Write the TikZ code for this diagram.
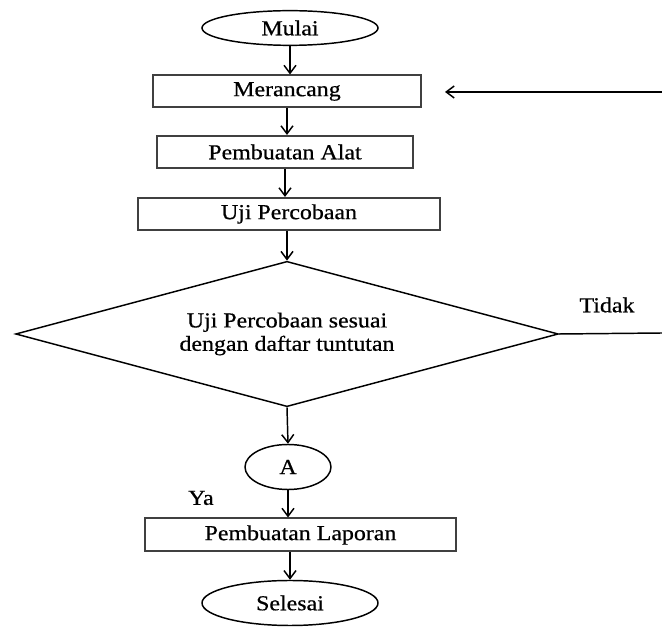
\documentclass[tikz,border=0pt]{standalone}
\usepackage{fontspec}
\setmainfont{Liberation Serif}[FakeStretch=1.12, FakeBold=0.6]
\usepackage{tikz}
\usetikzlibrary{arrows.meta, positioning, shapes.geometric}

\newcommand{\flowfont}{\fontsize{16pt}{17.5pt}\selectfont}

\begin{document}
\begin{tikzpicture}[
    x=0.75pt, y=-0.75pt,
    terminal/.style={ellipse, draw, line width=1.1pt, inner sep=0pt, minimum width=132pt, font=\flowfont},
    process/.style={rectangle, draw=black!75, line width=1.5pt, inner sep=0pt, minimum height=24pt, font=\flowfont},
    decision/.style={diamond, draw, line width=1.1pt, aspect=3.75, inner sep=0pt, minimum width=407pt, minimum height=109pt, align=center, font=\flowfont},
    connector/.style={ellipse, draw, line width=1.1pt, inner sep=0pt, minimum width=64.5pt, minimum height=33.75pt, font=\flowfont},
    arrow/.style={-{Straight Barb[length=6pt, width=9pt]}, line width=1.1pt},
]
    \useasboundingbox (0,0) rectangle (662,627);

    % Start and design
    \node[terminal, minimum height=26pt] (mulai) at (290,28) {Mulai};
    \node[process, minimum width=201pt] (merancang) at (287,91.5) {Merancang};
    \node[process, minimum width=192pt] (alat) at (285,152) {Pembuatan Alat};
    \node[process, minimum width=227pt] (uji) at (289,214) {Uji Percobaan};

    % Check
    \node[decision] (cek) at (287,334) {Uji Percobaan sesuai\\dengan daftar tuntutan};
    \node[font=\flowfont] (tidak) at (607,305) {Tidak};
    \coordinate (tidakend) at (662,333);
    \coordinate (balik) at (662,92);
    \coordinate (balikend) at (445,92);

    % Report and finish
    \node[connector] (a) at (288,467) {A};
    \node[font=\flowfont] (ya) at (201,498) {Ya};
    \node[process, minimum width=233pt, minimum height=24.75pt] (laporan) at (300.5,535) {Pembuatan Laporan};
    \node[terminal, minimum height=33.75pt] (selesai) at (290,603) {Selesai};

    % Arrows
    \draw[arrow] (mulai.south) -- (mulai.south |- merancang.north);
    \draw[arrow] (merancang.south) -- (merancang.south |- alat.north);
    \draw[arrow] (alat.south) -- (alat.south |- uji.north);
    \draw[arrow] (uji.south -| cek.north) -- (cek.north);
    \draw[line width=1.1pt] (cek.east) -- (tidakend);
    \draw[arrow] (balik) -- (balikend);
    \draw[arrow] (cek.south) -- (a.north);
    \draw[arrow] (a.south) -- (a.south |- laporan.north);
    \draw[arrow] (laporan.south -| selesai.north) -- (selesai.north);
\end{tikzpicture}
\end{document}
